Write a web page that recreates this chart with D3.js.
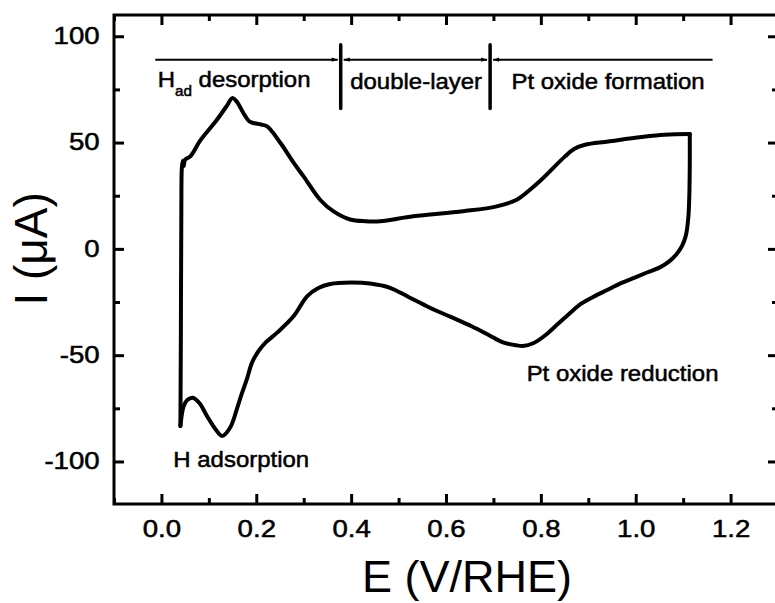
<!DOCTYPE html>
<html>
<head>
<meta charset="utf-8">
<script src="https://cdn.jsdelivr.net/npm/d3@7/dist/d3.min.js"></script>
<style>
  html, body { margin: 0; padding: 0; background: #fff; }
  svg { display: block; font-family: "Liberation Sans", Arial, Helvetica, sans-serif; }
</style>
</head>
<body>
<svg id="chart" width="775" height="603"></svg>
<script>
// Cyclic voltammogram of Pt: anodic sweep then cathodic sweep (E in V vs RHE, I in µA)
const anodicPotential = [
  0.040, 0.041, 0.042, 0.043, 0.045, 0.047, 0.050, 0.061, 0.082, 0.117,
  0.140, 0.149, 0.158, 0.173, 0.185, 0.194, 0.210, 0.223, 0.251, 0.279,
  0.300, 0.335, 0.363, 0.398, 0.430, 0.461, 0.531, 0.636, 0.707, 0.749,
  0.777, 0.801, 0.851, 0.870, 0.893, 0.942, 1.012, 1.061, 1.114
];
const anodicCurrent = [
  -83.3, -40, 20, 38, 41.5, 39, 42, 43.5, 51, 60.7,
  68, 70.9, 69.5, 63.8, 60, 59.2, 58.5, 57.6, 49.8, 40.4,
  34, 23, 17.6, 13.8, 13, 13, 15.3, 17.7, 20, 23.1,
  27.8, 32.5, 43.5, 47, 49, 50.5, 52.6, 53.7, 54
];
const cathodicPotential = [
  1.114, 1.114, 1.113, 1.111, 1.106, 1.098, 1.086, 1.070, 1.051, 1.025,
  0.998, 0.970, 0.942, 0.910, 0.885, 0.860, 0.835, 0.810, 0.785, 0.762,
  0.745, 0.720, 0.690, 0.655, 0.610, 0.566, 0.520, 0.482, 0.440, 0.400,
  0.356, 0.330, 0.307, 0.279, 0.244, 0.220, 0.205, 0.191, 0.180, 0.168,
  0.159, 0.145, 0.128, 0.114, 0.096, 0.080, 0.066, 0.055, 0.047, 0.040
];
const cathodicCurrent = [
  54, 40, 25, 15, 6.5, 1.5, -2.5, -6, -8.7, -11,
  -13.5, -16, -19.1, -22.6, -25.8, -30.5, -35.5, -40.5, -44.3, -45.7,
  -45.2, -44, -40.5, -36.5, -32, -27.7, -22.5, -18.3, -16.3, -15.8,
  -16.5, -18.5, -22.3, -31.6, -39.4, -44, -48, -53.5, -61.4, -69,
  -75.4, -84, -88, -84.8, -78.6, -72.5, -70, -71, -73.9, -83.3
];

// Axis ticks
const xMajorTicks = [0.0, 0.2, 0.4, 0.6, 0.8, 1.0, 1.2];
const xMinorTicks = [-0.1, 0.1, 0.3, 0.5, 0.7, 0.9, 1.1, 1.3];
const yMajorTicks = [-100, -50, 0, 50, 100];
const yMinorTicks = [-75, -25, 25, 75];

// Potential regions marked above the curve
const regionBounds = [0.378, 0.693];
const regionArrows = [
  { from: -0.013, to: 0.378, startHead: false, endHead: true },
  { from: 0.378, to: 0.693, startHead: true, endHead: true },
  { from: 0.693, to: 1.162, startHead: true, endHead: false }
];
const arrowLevel = 89;
const barRange = [66, 96];
const regionLabels = [
  { text: "double-layer", e: 0.398, i: 75.3 },
  { text: "Pt oxide formation", e: 0.738, i: 75.3 }
];
const peakLabels = [
  { text: "H adsorption", e: 0.025, i: -102.5 },
  { text: "Pt oxide reduction", e: 0.770, i: -62 }
];

const svg = d3.select("#chart");
const margin = { left: 114, top: 15, right: 778, bottom: 504 };

const x = d3.scaleLinear().domain([-0.1, 1.3]).range([margin.left, margin.right]);
const y = d3.scaleLinear().domain([-120, 110]).range([margin.bottom, margin.top]);

const TEXT_STRETCH = 1.09;
const plainNumber = d => String(d).replace("\u2212", "-");

// Tick marks on all four sides, pointing inward
function drawAxis(axis, tx, ty) {
  const g = svg.append("g").attr("transform", `translate(${tx},${ty})`).call(axis);
  g.select(".domain").remove();
  g.selectAll(".tick line").attr("stroke", "#000").attr("stroke-width", 3);
  return g;
}
function styleTickText(g) {
  g.selectAll("text").attr("font-size", 23).attr("fill", "#000")
    .attr("stroke", "#000").attr("stroke-width", 0.5)
    .attr("font-family", "Liberation Sans, Arial, sans-serif")
    .attr("transform", "scale(1.2,1)");
}
const xb = drawAxis(d3.axisBottom(x).tickValues(xMajorTicks).tickSize(-10).tickPadding(17)
  .tickFormat(d => d.toFixed(1)), 0, margin.bottom);
styleTickText(xb);
drawAxis(d3.axisBottom(x).tickValues(xMinorTicks).tickSize(-6).tickFormat(""), 0, margin.bottom);
drawAxis(d3.axisTop(x).tickValues(xMajorTicks).tickSize(-10).tickFormat(""), 0, margin.top);
drawAxis(d3.axisTop(x).tickValues(xMinorTicks).tickSize(-6).tickFormat(""), 0, margin.top);

const yl = drawAxis(d3.axisLeft(y).tickValues(yMajorTicks).tickSize(-10).tickPadding(12)
  .tickFormat(plainNumber), margin.left, 0);
styleTickText(yl);
drawAxis(d3.axisLeft(y).tickValues(yMinorTicks).tickSize(-6).tickFormat(""), margin.left, 0);
drawAxis(d3.axisRight(y).tickValues(yMajorTicks).tickSize(-10).tickFormat(""), margin.right, 0);
drawAxis(d3.axisRight(y).tickValues(yMinorTicks).tickSize(-6).tickFormat(""), margin.right, 0);

// Frame
svg.append("rect")
  .attr("x", margin.left).attr("y", margin.top)
  .attr("width", margin.right - margin.left).attr("height", margin.bottom - margin.top)
  .attr("fill", "none").attr("stroke", "#000").attr("stroke-width", 3);

// Voltammogram: each sweep is smoothed separately so the turning points stay sharp
const line = d3.line().x(d => x(d[0])).y(d => y(d[1])).curve(d3.curveCatmullRom.alpha(0.5));
const sweeps = [
  anodicPotential.map((e, k) => [e, anodicCurrent[k]]),
  cathodicPotential.map((e, k) => [e, cathodicCurrent[k]])
];
svg.append("g").selectAll("path").data(sweeps).join("path")
  .attr("d", line)
  .attr("fill", "none").attr("stroke", "#000")
  .attr("stroke-width", 4).attr("stroke-linejoin", "round").attr("stroke-linecap", "round");

// Arrowheads
const defs = svg.append("defs");
defs.append("marker").attr("id", "head").attr("viewBox", "0 0 10 10")
  .attr("refX", 10).attr("refY", 5).attr("markerWidth", 10).attr("markerHeight", 6)
  .attr("markerUnits", "userSpaceOnUse").attr("orient", "auto-start-reverse")
  .append("path").attr("d", "M0,1.5 L10,5 L0,8.5 Z").attr("fill", "#000");

const ann = svg.append("g");
regionArrows.forEach(a => {
  const l = ann.append("line")
    .attr("x1", x(a.from) + (a.startHead ? 3 : 0)).attr("x2", x(a.to) - (a.endHead ? 3 : 0))
    .attr("y1", y(arrowLevel)).attr("y2", y(arrowLevel))
    .attr("stroke", "#000").attr("stroke-width", 2);
  if (a.startHead) l.attr("marker-start", "url(#head)");
  if (a.endHead) l.attr("marker-end", "url(#head)");
});
regionBounds.forEach(e => {
  ann.append("line")
    .attr("x1", x(e)).attr("x2", x(e))
    .attr("y1", y(barRange[1])).attr("y2", y(barRange[0]))
    .attr("stroke", "#000").attr("stroke-width", 3.5).attr("stroke-linecap", "round");
});

function label(g, px, py, size) {
  return g.append("text")
    .attr("transform", `translate(${px},${py}) scale(${TEXT_STRETCH},1)`)
    .attr("font-size", size).attr("fill", "#000")
    .attr("stroke", "#000").attr("stroke-width", 0.5);
}

// H_ad desorption with subscript
const hl = label(ann, x(-0.008), y(76), 22);
hl.append("tspan").text("H");
hl.append("tspan").attr("font-size", 14).attr("dy", 9).text("ad");
hl.append("tspan").attr("dy", -9).text(" desorption");

regionLabels.forEach(d => label(ann, x(d.e), y(d.i), 22).text(d.text));
peakLabels.forEach(d => label(ann, x(d.e), y(d.i), 22).text(d.text));

// Axis titles
svg.append("text")
  .attr("x", 467).attr("y", 592)
  .attr("text-anchor", "middle").attr("font-size", 45).attr("fill", "#000")
  .text("E (V/RHE)");
svg.append("text")
  .attr("transform", `translate(47,${y(0)}) rotate(-90)`)
  .attr("text-anchor", "middle").attr("font-size", 46).attr("fill", "#000")
  .text("I (\u03BCA)");
</script>
</body>
</html>
